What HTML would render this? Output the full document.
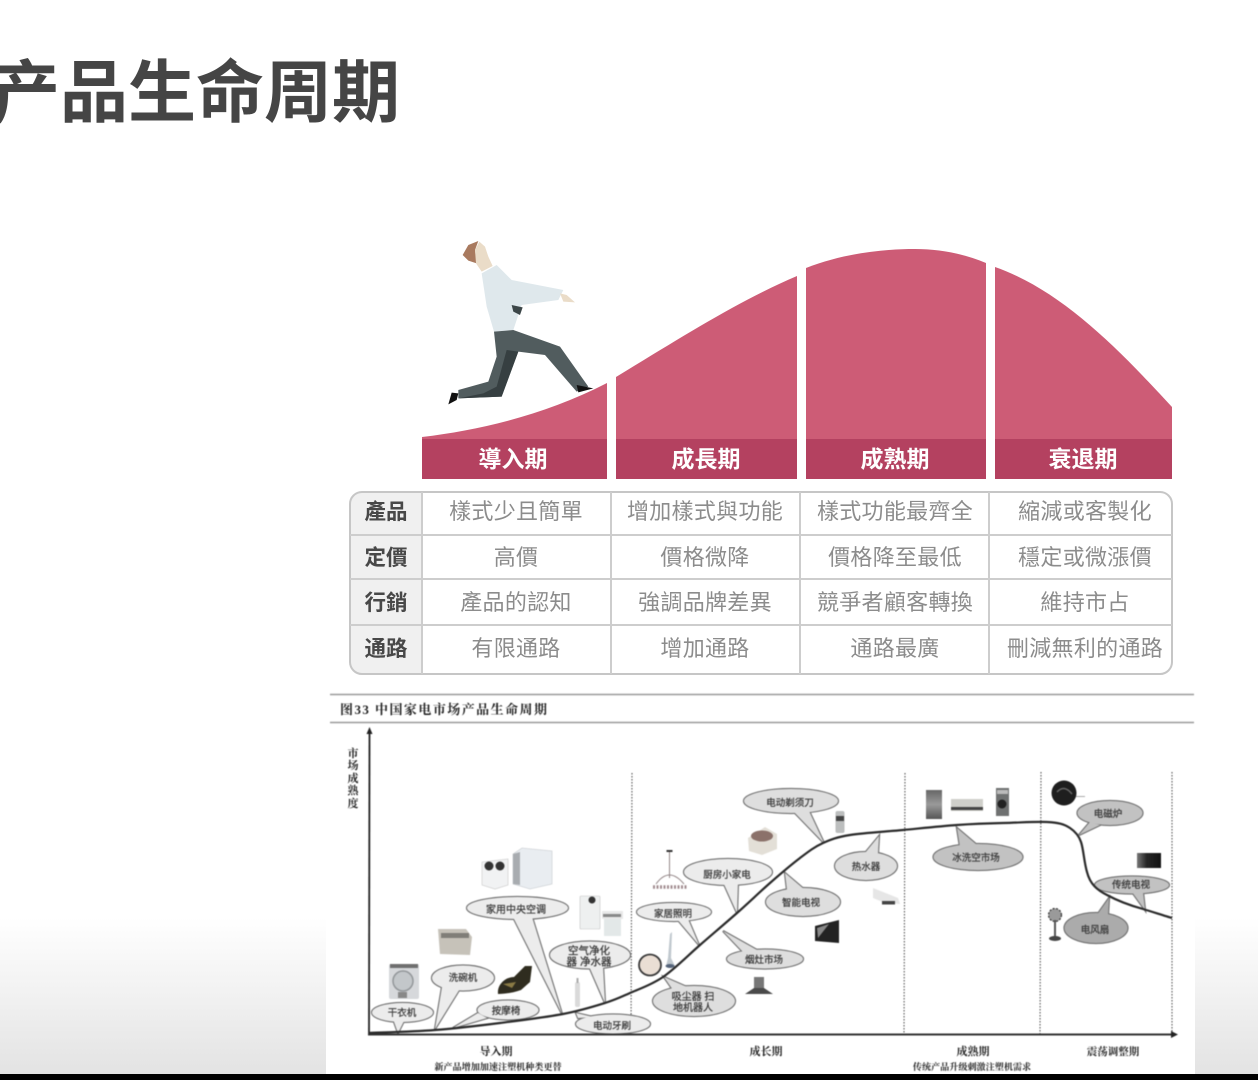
<!DOCTYPE html>
<html lang="zh">
<head>
<meta charset="utf-8">
<title>产品生命周期</title>
<style>
html,body{margin:0;padding:0;background:#fff;width:1258px;height:1080px;overflow:hidden}
svg{display:block;position:absolute;left:0;top:0}
.tc{font-family:"Liberation Sans","Noto Sans CJK TC",sans-serif}
.sc{font-family:"Liberation Sans","Noto Sans CJK SC",sans-serif}
.se{font-family:"Liberation Serif","Noto Serif CJK SC",serif}
.blur{filter:blur(.5px)}
.soft{filter:blur(.3px)}
</style>
</head>
<body>
<svg width="1258" height="1080" viewBox="0 0 1258 1080" xmlns="http://www.w3.org/2000/svg">
<defs>
<linearGradient id="bg" x1="0" y1="0" x2="0" y2="1">
<stop offset="0" stop-color="#ffffff"/><stop offset="1" stop-color="#e3e3e3"/>
</linearGradient>
<linearGradient id="tvg" x1="0" y1="0" x2="1" y2="0">
<stop offset="0" stop-color="#777"/><stop offset=".4" stop-color="#262626"/><stop offset="1" stop-color="#111"/>
</linearGradient>
<linearGradient id="frg" x1="0" y1="0" x2="0" y2="1">
<stop offset="0" stop-color="#666"/><stop offset=".5" stop-color="#9a9a9a"/><stop offset="1" stop-color="#555"/>
</linearGradient>
<g id="b1">
<ellipse cx="402.5" cy="1012.5" rx="30.5" ry="9.5"/><polygon points="393,1019 405,1019 398,1033"/>
<ellipse cx="463" cy="978" rx="31" ry="12.5"/><polygon points="442,987 461,987 435,1029"/>
<ellipse cx="508" cy="1010" rx="30.5" ry="9.5"/><polygon points="478,1013 487,1018 453,1028"/>
<ellipse cx="517.5" cy="908" rx="50.5" ry="11"/><polygon points="513,917 532,917 562,1014"/>
<ellipse cx="590" cy="955" rx="40" ry="13.5"/><polygon points="588,964 603,966 605,1003"/>
<ellipse cx="613" cy="1024" rx="37" ry="9.5"/><polygon points="578,1018 593,1017 576,1013"/>
<ellipse cx="674" cy="912" rx="37" ry="9"/><polygon points="677,919 688,919 699,945"/>
<ellipse cx="728" cy="872" rx="44" ry="13"/><polygon points="723,882 738,882 737,913"/>
</g>
<g id="b2">
<ellipse cx="694" cy="1001" rx="41" ry="15"/><polygon points="673,990 687,987 664,977"/>
<ellipse cx="765" cy="959" rx="38" ry="9.5"/><polygon points="743,952 757,950 723,931"/>
<ellipse cx="791" cy="801" rx="47" ry="12"/><polygon points="793,811 809,811 824,843"/>
<ellipse cx="803" cy="902" rx="37" ry="14"/><polygon points="787,890 805,890 785,873"/>
<ellipse cx="866" cy="866" rx="31" ry="14"/><polygon points="865,853 878,853 879,836"/>
</g>
<g id="b3">
<ellipse cx="978" cy="857" rx="44.5" ry="13"/><polygon points="960,847 977,845 957,828"/>
<ellipse cx="1132" cy="885" rx="37" ry="8.5"/><polygon points="1132,892 1143,892 1145,910"/>
<ellipse cx="1110" cy="813" rx="32.5" ry="12"/><polygon points="1090,822 1100,825 1079,835"/>
</g>
<g id="b4">
<ellipse cx="1096" cy="928" rx="31.5" ry="15"/><polygon points="1097,915 1108,915 1109,898"/>
</g>
</defs>

<!-- background -->
<rect x="0" y="918" width="326" height="156" fill="url(#bg)"/>
<rect x="1195" y="918" width="63" height="156" fill="url(#bg)"/>
<rect x="0" y="1074" width="1258" height="6" fill="#000"/>

<!-- title -->
<text x="-8" y="116.5" class="sc" font-size="68" font-weight="700" fill="#454545">产品生命周期</text>

<!-- curve sections -->
<path d="M422,437 C480,430 545,415 607,383 V439 H422Z" fill="#cd5c76"/>
<path d="M616,377 C680,338 740,300 797,276 V439 H616Z" fill="#cd5c76"/>
<path d="M806,268 C842,254 880,249 915,249 C940,249 965,254 986,263 V439 H806Z" fill="#cd5c76"/>
<path d="M995,267 C1060,290 1115,345 1172,407 V439 H995Z" fill="#cd5c76"/>
<g fill="#b44160">
<rect x="422" y="439" width="185" height="40"/>
<rect x="616" y="439" width="181" height="40"/>
<rect x="806" y="439" width="180" height="40"/>
<rect x="995" y="439" width="177" height="40"/>
</g>
<g class="tc soft" font-size="23" font-weight="700" fill="#fff" text-anchor="middle">
<text x="513" y="467">導入期</text>
<text x="706" y="467">成長期</text>
<text x="895" y="467">成熟期</text>
<text x="1083" y="467">衰退期</text>
</g>

<!-- man -->
<g transform="translate(340,230) scale(.33333)" class="soft">
<polygon points="415,33 385,45 368,75 385,92 410,100 405,60" fill="#a97a5f"/>
<polygon points="418,35 405,60 408,100 425,125 458,108 445,80 435,50" fill="#eadcc8"/>
<polygon points="425,130 470,105 515,150 670,180 655,210 545,225 520,300 462,305 440,230" fill="#dfe8ec"/>
<polygon points="660,190 680,195 705,217 670,215" fill="#eadcc8"/>
<polygon points="515,225 548,232 540,255 520,245" fill="#3c4648"/>
<polygon points="462,305 520,300 660,350 745,470 710,485 615,375 535,365 485,500 355,505 355,480 445,455 470,380" fill="#515c5e"/>
<polygon points="500,360 535,365 485,500 355,505 430,490 470,470" fill="#363f41"/>
<polygon points="710,465 760,475 715,487" fill="#111"/>
<polygon points="335,488 355,490 350,510 325,523" fill="#111"/>
</g>

<!-- table -->
<rect x="350" y="492" width="822" height="182" rx="12" fill="#fff"/>
<path d="M422,492 H362 A12,12 0 0 0 350,504 V662 A12,12 0 0 0 362,674 H422Z" fill="#f0f0f0"/>
<rect x="350" y="492" width="822" height="182" rx="12" fill="none" stroke="#c6c6c6" stroke-width="2"/>
<g stroke="#cdcdcd" stroke-width="2">
<line x1="350" y1="535" x2="1172" y2="535"/>
<line x1="350" y1="579" x2="1172" y2="579"/>
<line x1="350" y1="625" x2="1172" y2="625"/>
<line x1="422" y1="492" x2="422" y2="674"/>
<line x1="611" y1="492" x2="611" y2="674"/>
<line x1="800" y1="492" x2="800" y2="674"/>
<line x1="989" y1="492" x2="989" y2="674"/>
</g>
<g class="tc soft" font-size="21.5" font-weight="700" fill="#484848" text-anchor="middle">
<text x="386" y="519">產品</text>
<text x="386" y="565">定價</text>
<text x="386" y="610">行銷</text>
<text x="386" y="656">通路</text>
</g>
<g class="tc soft" font-size="22" fill="#8c8c8c" text-anchor="middle" letter-spacing=".3">
<text x="516" y="519">樣式少且簡單</text>
<text x="705" y="519">增加樣式與功能</text>
<text x="895" y="519">樣式功能最齊全</text>
<text x="1085" y="519">縮減或客製化</text>
<text x="516" y="565">高價</text>
<text x="705" y="565">價格微降</text>
<text x="895" y="565">價格降至最低</text>
<text x="1085" y="565">穩定或微漲價</text>
<text x="516" y="610">產品的認知</text>
<text x="705" y="610">強調品牌差異</text>
<text x="895" y="610">競爭者顧客轉換</text>
<text x="1085" y="610">維持市占</text>
<text x="516" y="656">有限通路</text>
<text x="705" y="656">增加通路</text>
<text x="895" y="656">通路最廣</text>
<text x="1085" y="656">刪減無利的通路</text>
</g>

<!-- lower chart -->
<g class="blur">
<line x1="330" y1="694.5" x2="1194" y2="694.5" stroke="#999" stroke-width="1.6"/>
<line x1="330" y1="722.5" x2="1194" y2="722.5" stroke="#999" stroke-width="1.6"/>
<text x="340" y="714" class="se" font-size="13" font-weight="700" fill="#222" textLength="207">图33 中国家电市场产品生命周期</text>

<g class="se" font-size="11" font-weight="700" fill="#222" text-anchor="middle">
<text x="353" y="757">市</text><text x="353" y="769">场</text><text x="353" y="782">成</text><text x="353" y="794">熟</text><text x="353" y="807">度</text>
</g>

<!-- dotted dividers -->
<g stroke="#555" stroke-width="1.1" stroke-dasharray="1.5 1.5">
<line x1="632" y1="773" x2="631" y2="1034"/>
<line x1="905" y1="773" x2="904" y2="1034"/>
<line x1="1041" y1="772" x2="1040" y2="1034"/>
<line x1="1172" y1="772" x2="1172" y2="1034"/>
</g>

<!-- products -->
<rect x="389" y="964" width="30" height="35" rx="2" fill="#d6d8db"/><rect x="390" y="964" width="28" height="4" fill="#6f6f6f"/>
<circle cx="403" cy="981" r="10" fill="#c3c7ca" stroke="#93979a" stroke-width="1.5"/><rect x="398" y="992" width="9" height="6" fill="#888"/>
<polygon points="438,929 466,929 472,937 470,955 440,954" fill="#c6c2b9"/><rect x="441" y="933" width="28" height="5" fill="#807e78"/>
<path d="M498,994 C497,984 506,977 514,977 L525,966 L532,966 L530,982 L521,990 C512,993 505,994 498,994Z" fill="#2f2c1f"/><path d="M503,984 L516,982 L512,988Z" fill="#8a7a45"/>
<polygon points="482,862 508,859 508,885 495,889 482,885" fill="#f1f2f3" stroke="#c8c8c8" stroke-width=".6"/>
<circle cx="489" cy="866" r="4.5" fill="#333"/><circle cx="500" cy="866" r="4.5" fill="#333"/>
<polygon points="513,854 522,848 552,851 552,884 530,889 513,884" fill="#e9edf1" stroke="#c4c8cc" stroke-width=".6"/><polygon points="513,854 520,852 520,885 513,884" fill="#a8acb0"/>
<rect x="580" y="896" width="20" height="33" rx="1" fill="#eef0f0" stroke="#c4c4c4" stroke-width=".6"/><circle cx="592" cy="900" r="3.5" fill="#333"/>
<rect x="602" y="911" width="21" height="8" fill="#e8e8e8"/><rect x="603" y="914" width="18" height="3" fill="#888"/><rect x="604" y="919" width="17" height="17" fill="#e3e8e8"/>
<rect x="575" y="982" width="5" height="25" rx="2" fill="#dadada"/><rect x="576.5" y="978" width="2" height="5" fill="#aaa"/>
<g stroke="#96898a" stroke-width="1" fill="none"><line x1="669.5" y1="852" x2="669.5" y2="878"/><path d="M656,884 Q669,866 684,884"/></g>
<rect x="666.5" y="850" width="6" height="2" fill="#333"/>
<line x1="653" y1="887" x2="688" y2="887" stroke="#a18d90" stroke-width="3.5" stroke-dasharray="2 1.5"/>
<ellipse cx="650" cy="965" rx="11" ry="10.5" fill="#eaded4" stroke="#3a3a3a" stroke-width="1.8"/>
<path d="M672,932 L671,958 L675,966 L666,966 L668,958 L670,934Z" fill="#c0c8ce"/><ellipse cx="670" cy="966" rx="4.5" ry="2" fill="#55647a"/>
<path d="M748,838 L765,827 L777,834 L777,849 L762,855 L749,851Z" fill="#e3dfd7"/><ellipse cx="762" cy="836" rx="11" ry="5.5" fill="#8b716a"/>
<rect x="754" y="977" width="10" height="13" fill="#777"/><polygon points="745,994 754,988 764,988 773,994" fill="#4a4a4a"/>
<rect x="835.5" y="811" width="9" height="22" rx="2" fill="#bcbebe"/><rect x="836" y="816" width="8" height="5" fill="#444"/>
<polygon points="815,926 839,920 839,943 815,941" fill="#222"/><polygon points="817,928 829,924 818,938" fill="#888"/>
<path d="M873,888 L898,898 L900,904 L885,903 L873,898Z" fill="#e6e6e6"/><rect x="882" y="901" width="13" height="3.5" fill="#444"/>
<rect x="926" y="790" width="16" height="29" fill="url(#frg)"/>
<rect x="951" y="799" width="32" height="12" fill="#cfcfca"/><rect x="951" y="807" width="32" height="3" fill="#444"/>
<rect x="996" y="788" width="13" height="28" fill="#6f7171"/><circle cx="1002" cy="804" r="4.5" fill="#222"/><rect x="997" y="790" width="11" height="4" fill="#bbb"/>
<circle cx="1064" cy="793" r="12.5" fill="#1e1e1e"/><path d="M1057,792 Q1064,784 1072,794" fill="none" stroke="#666" stroke-width="1.5"/><rect x="1076" y="796" width="9" height="1" fill="#aaa"/>
<rect x="1137" y="853" width="24" height="15" fill="url(#tvg)"/>
<circle cx="1055" cy="915" r="6.5" fill="#9a9a9a" stroke="#333" stroke-width="1.2" stroke-dasharray="2 1.5"/>
<rect x="1054" y="920" width="2" height="18" fill="#555"/><ellipse cx="1055" cy="938.5" rx="6" ry="2.5" fill="#444"/>

<!-- bubbles: outline pass then fill pass -->
<use href="#b1" fill="#707070" stroke="#707070" stroke-width="2.2"/>
<use href="#b2" fill="#707070" stroke="#707070" stroke-width="2.2"/>
<use href="#b3" fill="#707070" stroke="#707070" stroke-width="2.2"/>
<use href="#b4" fill="#707070" stroke="#707070" stroke-width="2.2"/>
<use href="#b1" fill="#ececec"/>
<use href="#b2" fill="#dedede"/>
<use href="#b3" fill="#c2c2c2"/>
<use href="#b4" fill="#ababab"/>

<!-- axes -->
<line x1="369.5" y1="733" x2="369" y2="1034" stroke="#222" stroke-width="1.8"/>
<polygon points="369.5,727 366.5,734 372.5,734" fill="#222"/>
<line x1="368" y1="1034.5" x2="1173" y2="1034.5" stroke="#333" stroke-width="2"/>
<polygon points="1178,1034.5 1171,1031 1171,1038" fill="#222"/>

<!-- lifecycle curve -->
<path d="M369,1033 C380,1032.5 413.2,1031.7 435,1030 C456.8,1028.3 478.7,1025.7 500,1023 C521.3,1020.3 545.5,1017.3 563,1014 C580.5,1010.7 593.8,1006.5 605,1003 C616.2,999.5 620.3,997.3 630,993 C639.7,988.7 651.3,985 663,977 C674.7,969 687.7,955.7 700,945 C712.3,934.3 725.3,923.3 737,913 C748.7,902.7 759.5,892.2 770,883 C780.5,873.8 791.2,864.7 800,858 C808.8,851.3 814.7,846.8 823,843 C831.3,839.2 836.7,837.2 850,835 C863.3,832.8 885.2,831.7 903,830 C920.8,828.3 940.3,826.2 957,825 C973.7,823.8 988,823.3 1003,823 C1018,822.7 1035.8,821.5 1047,822 C1058,822.5 1064,824 1070,828 C1076,832 1079,836 1081,842 C1083.5,849 1084,862 1087,872 C1090,884 1097,890 1107,895 C1118,901 1132,906 1143,909 C1153,912 1165,916 1172,918" fill="none" stroke="#2a2a2a" stroke-width="2.2"/>

<!-- bubble labels -->
<g class="sc" font-size="9.5" fill="#3a3a3a" stroke="#3a3a3a" stroke-width=".25" text-anchor="middle">
<text x="402" y="1016">干衣机</text>
<text x="463" y="981">洗碗机</text>
<text x="506" y="1014">按摩椅</text>
<text x="516" y="913" font-size="10">家用中央空调</text>
<text x="589" y="954" font-size="10.5">空气净化</text>
<text x="589" y="965" font-size="10.5">器 净水器</text>
<text x="612" y="1029">电动牙刷</text>
<text x="673" y="917">家居照明</text>
<text x="727" y="878">厨房小家电</text>
<text x="693" y="1000" font-size="10">吸尘器 扫</text>
<text x="693" y="1011" font-size="10">地机器人</text>
<text x="764" y="963">烟灶市场</text>
<text x="790" y="806">电动剃须刀</text>
<text x="801" y="906">智能电视</text>
<text x="866" y="870">热水器</text>
<text x="976" y="861">冰洗空市场</text>
<text x="1108" y="817">电磁炉</text>
<text x="1131" y="888">传统电视</text>
<text x="1095" y="933">电风扇</text>
</g>

<!-- stage labels -->
<g class="se" font-weight="700" fill="#222" text-anchor="middle">
<text x="496" y="1055" font-size="11">导入期</text>
<text x="498" y="1070" font-size="9.1">新产品增加加速注塑机种类更替</text>
<text x="766" y="1055" font-size="11">成长期</text>
<text x="973" y="1055" font-size="11">成熟期</text>
<text x="972" y="1070" font-size="9.1">传统产品升级刺激注塑机需求</text>
<text x="1113" y="1055" font-size="10.5">震荡调整期</text>
</g>
</g>
</svg>
</body>
</html>
